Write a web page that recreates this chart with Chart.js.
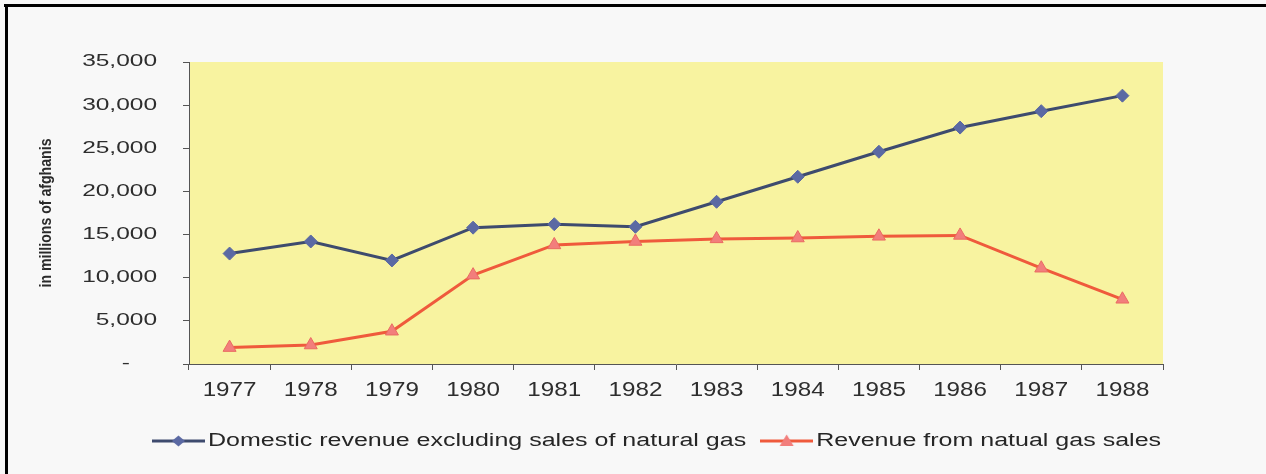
<!DOCTYPE html>
<html>
<head>
<meta charset="utf-8">
<script src="https://cdn.jsdelivr.net/npm/chart.js@4/dist/chart.umd.min.js"></script>
<style>
  html, body { margin: 0; padding: 0; background: #f8f8f8; }
  #wrap { position: relative; width: 1266px; height: 474px; overflow: hidden; }
  #c { position: absolute; left: 0; top: 0; }
  .bt { position: absolute; left: 4px; top: 4px; width: 1262px; height: 3px; background: #000; }
  .bl { position: absolute; left: 5px; top: 4px; width: 3px; height: 470px; background: #000; }
</style>
</head>
<body>
<div id="wrap">
  <canvas id="c" width="1266" height="474"></canvas>
  <div class="bt"></div>
  <div class="bl"></div>
</div>
<script>
// ---- data ----
const years = ['1977','1978','1979','1980','1981','1982','1983','1984','1985','1986','1987','1988'];
const domesticRevenue = [12800, 14200, 12000, 15800, 16200, 15900, 18800, 21700, 24600, 27400, 29300, 31100];
const gasRevenue = [1900, 2200, 3800, 10300, 13800, 14200, 14500, 14600, 14800, 14900, 11100, 7500];
const seriesNames = ['Domestic revenue excluding sales of natural gas', 'Revenue from natual gas sales'];
const yTickValues = [0, 5000, 10000, 15000, 20000, 25000, 30000, 35000];
const yAxisTitle = 'in millions of afghanis';

// ---- styles ----
const blueLine = '#3e4b6e', blueMarker = '#5b69a3';
const redLine = '#ef5a3c', redMarker = '#f27e7c';
const PAD_L = 53;

function legendSymbol(kind) {
  const c = document.createElement('canvas');
  c.width = 53; c.height = 16;
  const g = c.getContext('2d');
  g.strokeStyle = kind === 'diamond' ? blueLine : redLine;
  g.lineWidth = 3;
  g.beginPath(); g.moveTo(0, 8); g.lineTo(53, 8); g.stroke();
  g.fillStyle = kind === 'diamond' ? blueMarker : redMarker;
  g.beginPath();
  if (kind === 'diamond') {
    g.moveTo(26.5, 2.5); g.lineTo(33, 8); g.lineTo(26.5, 13.5); g.lineTo(20, 8);
  } else {
    g.moveTo(26.5, 1.5); g.lineTo(33.5, 13); g.lineTo(19.5, 13);
  }
  g.closePath(); g.fill();
  return c;
}
const legendImgs = [legendSymbol('diamond'), legendSymbol('triangle')];

// horizontally stretched text while fn runs
function withStretch(ctx, sx, fn) {
  const proto = Object.getPrototypeOf(ctx);
  const of = proto.fillText, om = proto.measureText;
  ctx.fillText = function (t, x, y, mw) {
    this.save(); this.translate(x, y); this.scale(sx, 1);
    if (mw !== undefined) of.call(this, t, 0, 0, mw / sx); else of.call(this, t, 0, 0);
    this.restore();
  };
  ctx.measureText = function (t) {
    const m = om.call(this, t);
    return { width: m.width * sx, actualBoundingBoxAscent: m.actualBoundingBoxAscent,
      actualBoundingBoxDescent: m.actualBoundingBoxDescent,
      actualBoundingBoxLeft: m.actualBoundingBoxLeft * sx, actualBoundingBoxRight: m.actualBoundingBoxRight * sx };
  };
  try { return fn(); } finally { delete ctx.fillText; delete ctx.measureText; }
}
function wrap(obj, name, sx) {
  const orig = obj[name].bind(obj);
  obj[name] = function (...a) { return withStretch(this.ctx, sx, () => orig(...a)); };
}

const helperPlugin = {
  id: 'helper',
  afterInit(chart) {
    if (chart.legend) { wrap(chart.legend, 'fit', 1.39); wrap(chart.legend, 'draw', 1.39); }
  },
  beforeDraw(chart) {
    const {ctx, chartArea: a} = chart;
    ctx.save();
    ctx.fillStyle = '#f8f3a0';
    ctx.fillRect(a.left, a.top, a.right - a.left, a.bottom - a.top);
    ctx.restore();
    const x = chart.scales.x, y = chart.scales.y;
    if (x && !x._w) { wrap(x, 'drawLabels', 1.21); x._w = true; }
    if (y && !y._w) { wrap(y, 'drawLabels', 1.53); wrap(y, 'drawTitle', 0.83); y._w = true; }
  }
};

new Chart(document.getElementById('c'), {
  type: 'line',
  data: {
    labels: years,
    datasets: [
      {
        label: seriesNames[0],
        data: domesticRevenue,
        borderColor: blueLine,
        borderWidth: 3,
        pointStyle: 'rectRot',
        pointRadius: 6.5,
        pointBackgroundColor: blueMarker,
        pointBorderColor: blueMarker,
        pointBorderWidth: 1,
        tension: 0
      },
      {
        label: seriesNames[1],
        data: gasRevenue,
        borderColor: redLine,
        borderWidth: 3,
        pointStyle: 'triangle',
        pointRadius: 7.5,
        pointBackgroundColor: redMarker,
        pointBorderColor: '#ea6b63',
        pointBorderWidth: 1,
        tension: 0
      }
    ]
  },
  options: {
    responsive: false,
    animation: false,
    layout: { padding: { left: PAD_L, right: 0, top: 62, bottom: 14 } },
    plugins: {
      tooltip: { enabled: false },
      legend: {
        position: 'bottom',
        labels: {
          usePointStyle: true,
          pointStyleWidth: 41,
          padding: 20,
          color: '#262626',
          font: { family: "'Liberation Sans', Arial, sans-serif", size: 18 },
          generateLabels(chart) {
            const items = Chart.defaults.plugins.legend.labels.generateLabels(chart);
            items.forEach((it, i) => { it.pointStyle = legendImgs[i]; it.rotation = 0; });
            return items;
          }
        }
      }
    },
    scales: {
      x: {
        offset: true,
        grid: { offset: true, drawOnChartArea: false, drawTicks: true, tickLength: 6, color: '#555' },
        border: { display: true, color: '#555', width: 1 },
        ticks: {
          padding: 8,
          color: '#2e2e2e',
          font: { family: "'Liberation Sans', Arial, sans-serif", size: 20 },
          maxRotation: 0,
          autoSkip: false
        },
        afterFit(s) { s.height = 48; }
      },
      y: {
        min: 0,
        max: 35000,
        afterBuildTicks(s) { s.ticks = yTickValues.map(v => ({ value: v })); },
        grid: { drawOnChartArea: false, drawTicks: true, tickLength: 6, color: '#555' },
        border: { display: true, color: '#555', width: 1 },
        ticks: {
          padding: 26,
          color: '#2e2e2e',
          font: { family: "'Liberation Sans', Arial, sans-serif", size: 16 },
          callback: v => v === 0 ? '-    ' : v.toLocaleString('en-US')
        },
        title: {
          display: true,
          text: yAxisTitle,
          color: '#2a2a2a',
          font: { family: "'Liberation Sans', Arial, sans-serif", size: 17, weight: 'bold' },
          padding: { top: 46 - PAD_L - 10.2, bottom: 0 }
        },
        afterFit(s) { s.width = 189 - PAD_L; }
      },
      yRightSpace: {
        position: 'right',
        display: true,
        grid: { display: false, drawTicks: false },
        border: { display: false },
        ticks: { display: false },
        afterFit(s) { s.width = 103; }
      }
    }
  },
  plugins: [helperPlugin]
});
</script>
</body>
</html>
